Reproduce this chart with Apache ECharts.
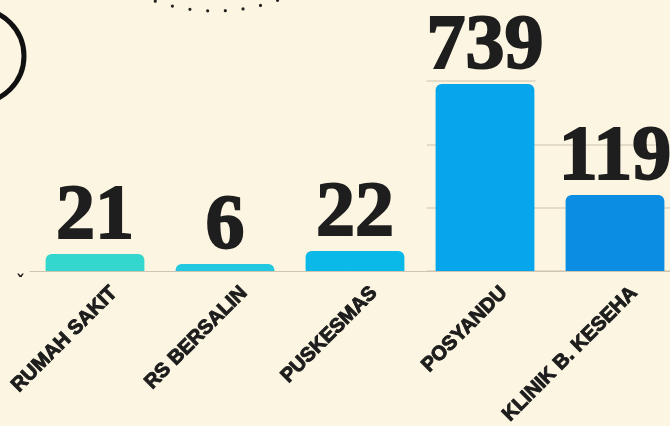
<!DOCTYPE html>
<html>
<head>
<meta charset="utf-8">
<script src="https://cdn.jsdelivr.net/npm/echarts@6/dist/echarts.min.js"></script>
<style>
  html, body { margin: 0; padding: 0; background: #fcf5e1; }
  #chart { width: 670px; height: 426px; }
</style>
</head>
<body>
<div id="chart"></div>
<script>
const categories = ['RUMAH SAKIT', 'RS BERSALIN', 'PUSKESMAS', 'POSYANDU', 'KLINIK B. KESEHA'];
// numbers printed above the bars
const values = [21, 6, 22, 739, 119];
// bar heights as drawn in the picture, read against the 250/500/750 gridlines
// (the original bars are not to scale with their labels)
const barHeights = [67, 28, 79, 738, 300];
const barColors = ['#34d7cd', '#22c7e0', '#0bb9e9', '#05a6eb', '#0a8de2'];
const yTicks = [0, 250, 500, 750];

const chart = echarts.init(document.getElementById('chart'));

const gridTop = 81;
const gridBottom = 155;
const gridColor = '#dcd3bd';

chart.setOption({
  backgroundColor: '#fcf5e1',
  animation: false,
  grid: [
    { left: 30, width: 650, top: gridTop, bottom: gridBottom, outerBoundsMode: 'none' },
    // faint gridlines only on the right part (250 and 500)
    { left: 427, right: 0, top: 145, bottom: gridBottom, outerBoundsMode: 'none' },
    // short top gridline (750) behind the POSYANDU bar only
    { left: 427, width: 108, top: gridTop, bottom: gridBottom, outerBoundsMode: 'none' }
  ],
  xAxis: [
    {
      type: 'category',
      data: categories,
      gridIndex: 0,
      axisLine: { lineStyle: { color: '#cdc4b1', width: 1 } },
      axisTick: { show: false },
      axisLabel: {
        rotate: 45,
        interval: 0,
        margin: 38,
        padding: [0, -27, 0, 0],
        color: '#1c1c1c',
        fontFamily: 'Liberation Sans, Arial, sans-serif',
        fontWeight: 'bold',
        fontSize: 20,
        textBorderColor: '#1c1c1c',
        textBorderWidth: 1
      }
    },
    { type: 'value', gridIndex: 1, show: false, min: 0, max: 1 },
    {
      type: 'value',
      gridIndex: 2,
      position: 'top',
      min: 0,
      max: 1,
      axisLine: { onZero: false, lineStyle: { color: gridColor, width: 1.5 } },
      axisTick: { show: false },
      axisLabel: { show: false },
      splitLine: { show: false }
    }
  ],
  yAxis: [
    {
      type: 'value',
      gridIndex: 0,
      min: yTicks[0],
      max: yTicks[yTicks.length - 1],
      interval: yTicks[1] - yTicks[0],
      axisLine: { show: false },
      axisTick: { show: false },
      axisLabel: { show: false },
      splitLine: { show: false }
    },
    {
      type: 'value',
      gridIndex: 1,
      min: yTicks[0],
      max: yTicks[2],
      interval: yTicks[1] - yTicks[0],
      axisLine: { show: false },
      axisTick: { show: false },
      axisLabel: { show: false },
      splitLine: { lineStyle: { color: gridColor, width: 1.5 } }
    },
    {
      type: 'value',
      gridIndex: 2,
      min: yTicks[0],
      max: yTicks[yTicks.length - 1],
      show: false
    }
  ],
  series: [
    {
      type: 'bar',
      xAxisIndex: 0,
      yAxisIndex: 0,
      barWidth: '76%',
      data: barHeights.map((h, i) => ({
        value: h,
        itemStyle: { color: barColors[i] }
      })),
      itemStyle: { borderRadius: [6, 6, 0, 0] },
      label: {
        show: true,
        position: 'top',
        distance: -3,
        formatter: p => String(values[p.dataIndex]),
        color: '#1e1e1e',
        fontFamily: 'Liberation Serif, Times New Roman, serif',
        fontWeight: 'bold',
        fontSize: 78,
        textBorderColor: '#1e1e1e',
        textBorderWidth: 2
      }
    }
  ],
  graphic: [
    {
      type: 'circle',
      shape: { cx: -23, cy: 56, r: 47 },
      style: { fill: 'none', stroke: '#111', lineWidth: 5 },
      silent: true
    },
    {
      type: 'circle',
      shape: { cx: 215, cy: -177, r: 188 },
      style: { fill: 'none', stroke: '#222', lineWidth: 3.2, lineDash: [0, 17.8], lineCap: 'round' },
      silent: true
    },
    {
      type: 'text',
      left: 16,
      top: 274,
      style: { text: 'ˇ', fill: '#222', font: 'bold 18px DejaVu Sans' },
      silent: true
    }
  ]
});
</script>
</body>
</html>
